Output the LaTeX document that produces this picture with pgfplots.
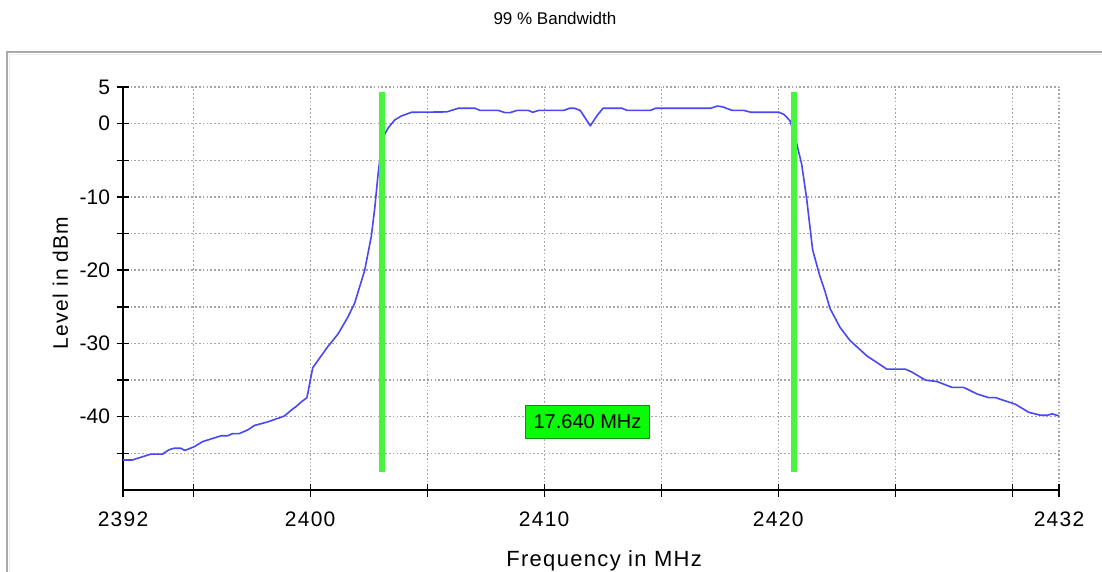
\documentclass[border=0pt]{standalone}
\usepackage{pgfplots}
\pgfplotsset{compat=1.18}
\usepackage{fontspec}
\setmainfont{Liberation Sans}
\newfontfamily\spacedfont[LetterSpace=6]{Liberation Sans}
\definecolor{trace}{RGB}{72,72,245}
\definecolor{marker}{RGB}{70,245,60}
\definecolor{boxgreen}{RGB}{10,250,10}
\definecolor{gridgray}{RGB}{165,165,165}
\definecolor{framegray}{RGB}{170,170,170}
\begin{document}
\begin{tikzpicture}[x=1pt,y=1pt]
\useasboundingbox (0,0) rectangle (1102,571);
\fill[white] (0,0) rectangle (1102,571);
\draw[framegray, line width=2pt] (7,-5) -- (7,519) -- (1110,519);
\draw[gray!15, line width=1pt] (9.5,-5) -- (9.5,516.5) -- (1110,516.5);
\begin{axis}[
  at={(123pt,81pt)}, anchor=south west,
  width=936pt, height=403pt, scale only axis,
  xmin=2392, xmax=2432, ymin=-50, ymax=5,
  axis x line*=bottom, axis y line*=left,
  axis line style={black, line width=1.4pt},
  xtick={2392,2395,2400,2405,2410,2415,2420,2425,2430,2432},
  xticklabels={2392,{},2400,{},2410,{},2420,{},{},2432},
  ytick={-45,-40,-35,-30,-25,-20,-15,-10,-5,0,5},
  yticklabels={{},\mbox{-40},{},\mbox{-30},{},\mbox{-20},{},\mbox{-10},{},\mbox{0},\mbox{5}},
  major tick length=13pt, tick align=center,
  tick style={black, line width=1.4pt},
  grid=major,
  major grid style={gridgray, line width=1.4pt, dash pattern=on 1.6pt off 2.2pt},
  xticklabel style={font=\spacedfont\fontsize{21}{21}\selectfont, yshift=-12pt},
  yticklabel style={font=\fontsize{21}{21}\selectfont, xshift=-3pt},
  xlabel={Frequency in MHz},
  ylabel={Level in dBm},
  xlabel style={font=\spacedfont\fontsize{22}{22}\selectfont, at={(axis description cs:0.514,-0.176)}, anchor=center},
  ylabel style={font=\spacedfont\fontsize{21}{21}\selectfont, at={(axis description cs:-0.067,0.514)}, anchor=center, rotate=0},
  title={99 \% Bandwidth},
  title style={font=\fontsize{17}{17}\selectfont, at={(axis description cs:0.4615,1.156)}, anchor=center},
  clip=false,
]
\addplot[trace, line width=1.6pt, line join=round] coordinates {
(2392.00,-45.9) (2392.40,-45.9) (2393.19,-45.1) (2393.69,-45.1) (2393.97,-44.5)
(2394.19,-44.3) (2394.47,-44.3) (2394.64,-44.6) (2395.04,-44.1) (2395.40,-43.4)
(2396.19,-42.6) (2396.47,-42.6) (2396.69,-42.3) (2396.97,-42.3) (2397.33,-41.8)
(2397.61,-41.2) (2398.19,-40.7) (2398.90,-39.9) (2399.19,-39.1) (2399.44,-38.5)
(2399.61,-38.0) (2399.86,-37.4) (2400.11,-33.3) (2400.76,-30.4) (2401.19,-28.7)
(2401.61,-26.4) (2401.90,-24.5) (2402.33,-20.0) (2402.61,-15.4) (2402.76,-11.5)
(2402.90,-6.9) (2403.04,-3.2) (2403.19,-1.4) (2403.33,-0.6) (2403.61,0.5)
(2403.90,1.05) (2404.33,1.55) (2405.83,1.6) (2406.33,2.1) (2407.04,2.1)
(2407.26,1.8) (2408.04,1.8) (2408.33,1.5) (2408.54,1.5) (2408.83,1.8)
(2409.33,1.8) (2409.51,1.55) (2409.76,1.8) (2410.83,1.8) (2411.09,2.1)
(2411.29,2.1) (2411.54,1.8) (2411.97,-0.3) (2412.26,1.1) (2412.51,2.1)
(2413.33,2.1) (2413.54,1.8) (2414.54,1.8) (2414.76,2.1) (2417.11,2.1)
(2417.40,2.4) (2417.61,2.3) (2418.04,1.8) (2418.54,1.8) (2418.83,1.55)
(2420.04,1.55) (2420.25,1.25) (2420.50,0.4) (2420.64,-0.9) (2420.81,-3.0)
(2421.00,-5.5) (2421.21,-10.1) (2421.47,-17.2) (2421.76,-20.6) (2422.00,-22.9)
(2422.21,-25.2) (2422.64,-27.8) (2423.07,-29.6) (2423.79,-31.7) (2424.64,-33.5)
(2425.43,-33.5) (2425.71,-33.9) (2426.29,-35.0) (2426.79,-35.2) (2427.43,-36.0)
(2427.93,-36.0) (2428.50,-36.9) (2429.00,-37.4) (2429.29,-37.4) (2429.57,-37.7)
(2430.14,-38.3) (2430.71,-39.4) (2431.21,-39.8) (2431.50,-39.8) (2431.71,-39.6)
(2432.00,-39.9)
};
\addplot[marker, line width=6pt, line cap=butt] coordinates {(2403.05,-47.6) (2403.05,4.3)};
\addplot[marker, line width=6pt, line cap=butt] coordinates {(2420.69,-47.6) (2420.69,4.3)};
\node[fill=boxgreen, draw=green!60!black, line width=1pt, minimum width=123pt, minimum height=33pt, inner sep=0pt, font=\fontsize{20}{20}\selectfont] at (axis cs:2411.85,-40.67) {17.640 MHz};
\end{axis}
\end{tikzpicture}
\end{document}
